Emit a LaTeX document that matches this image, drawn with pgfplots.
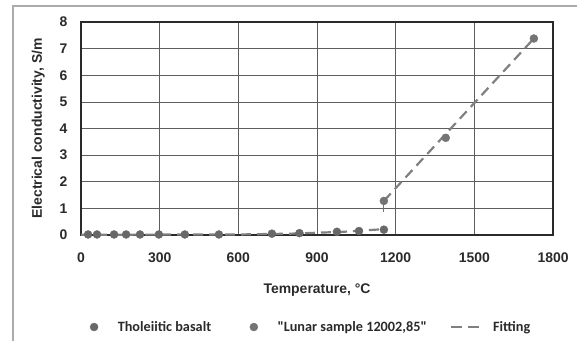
\documentclass[border=0pt]{standalone}
\usepackage{pgfplots}
\pgfplotsset{compat=1.18}
\usepackage{fontspec}
\setmainfont{Liberation Sans}
\newfontfamily\calibri{Carlito}[BoldFont={Carlito Bold}]
\definecolor{txt}{HTML}{2A2A2A}
\definecolor{mk}{HTML}{686868}
\definecolor{mk2}{HTML}{747474}
\definecolor{fitc}{HTML}{808080}
\definecolor{gridc}{HTML}{5E5E5E}
\begin{document}
\begin{tikzpicture}[x=1bp,y=1bp]
\useasboundingbox (0,0) rectangle (577,340);
\begin{scope}
\clip (0,0) rectangle (577,340);
\draw[color=black!33, line width=1.5bp] (13,-5) rectangle (585,334);
\end{scope}
\begin{axis}[
  at={(81bp,105bp)}, anchor=south west,
  scale only axis, width=472bp, height=213bp,
  xmin=0, xmax=1800, ymin=0, ymax=8,
  xtick={0,300,...,1800}, ytick={0,1,...,8},
  grid=major,
  major grid style={color=gridc, line width=0.6bp},
  axis line style={color=txt, line width=1.2bp},
  major tick length=0pt,
  /pgf/number format/assume math mode=true,
  /pgf/number format/set thousands separator={},
  tick label style={font=\bfseries\fontsize{14}{16}\selectfont, color=txt},
  xticklabel style={yshift=-14bp},
  yticklabel style={xshift=-10bp},
  xlabel={Temperature, °C},
  ylabel={Electrical conductivity, S/m},
  label style={font=\bfseries\fontsize{14}{16}\selectfont, color=txt},
  xlabel style={yshift=-14bp},
  ylabel style={yshift=8bp},
  legend columns=3,
  legend style={at={(0.4718,-0.432)}, anchor=center, draw=none, fill=none,
    font=\calibri\bfseries\fontsize{14.3}{16}\selectfont, text=txt,
    /tikz/every odd column/.append style={column sep=0bp},
    /tikz/every even column/.append style={column sep=21.7bp}},
  legend cell align=left,
]
\addplot[only marks, mark=*, mark size=4bp, color=mk,
  legend image code/.code={\fill[mk] (0bp,0bp) circle (4bp); \path[draw=none,fill=none] (-19bp,0bp) -- (21.7bp,0bp);}]
  coordinates {(27,0.02) (61,0.02) (126,0.02) (172,0.02) (225,0.02) (297,0.02)
  (396,0.02) (526,0.02) (728,0.05) (833,0.07) (976,0.12) (1060,0.15) (1155,0.2)};
\addlegendentry{Tholeiitic basalt}
\addplot[only marks, mark=*, mark size=4bp, color=mk2,
  legend image code/.code={\fill[mk2] (0bp,0bp) circle (4bp); \path[draw=none,fill=none] (-19bp,0bp) -- (21.7bp,0bp);},
  error bars/.cd, y dir=minus, y explicit, error bar style={line width=1.2bp, color=mk2}, error mark=none]
  coordinates {(1155,1.28) -= (0,0.4) (1391,3.65) -= (0,0) (1727,7.38) -= (0,0)};
\addlegendentry{"Lunar sample 12002,85"}
\addplot[dash pattern=on 10bp off 6bp, line width=2.2bp, color=fitc,
  legend image code/.code={\draw[fitc, line width=2bp, dash pattern=on 11bp off 6bp] (0bp,0bp) -- (28bp,0bp); \path[draw=none,fill=none] (0bp,0bp) -- (39.7bp,0bp);}]
  coordinates {(1155,1.28) (1727,7.38)};
\addlegendentry{Fitting}
\addplot[dash pattern=on 10bp off 6bp, line width=2.2bp, color=fitc, forget plot]
  coordinates {(0,0.01) (600,0.02) (800,0.05) (1000,0.12) (1155,0.22)};
\end{axis}
\end{tikzpicture}
\end{document}
